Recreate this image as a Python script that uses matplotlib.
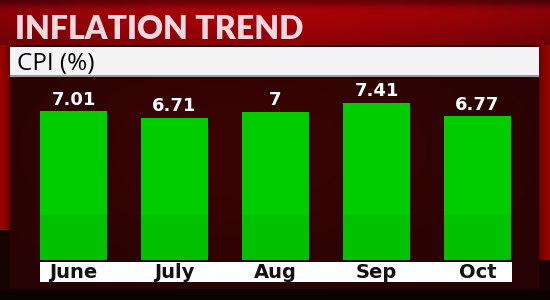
import numpy as np
import matplotlib
matplotlib.use("Agg")
import matplotlib.pyplot as plt
from matplotlib.patches import Rectangle

months = ["June", "July", "Aug", "Sep", "Oct"]
cpi = [7.01, 6.71, 7.0, 7.41, 6.77]
cpi_labels = ["7.01", "6.71", "7", "7.41", "6.77"]
title = "INFLATION TREND"
subtitle = "CPI (%)"

W, H = 550, 300
fig = plt.figure(figsize=(5.5, 3.0), dpi=100)

# ---- background image ----
yy, xx = np.mgrid[0:H, 0:W]
img = np.zeros((H, W, 3))
img[..., 0] = 0.10
img[..., 1] = 0.01
img[..., 2] = 0.01
edge = np.exp(-((xx - 0) / 14.0) ** 2) * (yy < 230) + np.exp(-((xx - 550) / 16.0) ** 2) * (yy < 260)
img[..., 0] += 0.50 * edge
top = (yy < 45)
band_r = 0.55 + 0.12 * np.sin(np.pi * xx / W) - 0.15 * (yy / 45.0) ** 2
img[..., 0] = np.where(top, band_r, img[..., 0])
img[..., 1] = np.where(top, 0.01, img[..., 1])
img[..., 2] = np.where(top, 0.03, img[..., 2])
img[..., 0] -= 0.25 * np.exp(-(yy / 6.0) ** 2)
panel = (xx >= 10) & (xx <= 538) & (yy >= 78) & (yy <= 288)
pr = 0.15 + 0.08 * np.exp(-(((xx - 250) / 220.0) ** 2 + ((yy - 150) / 110.0) ** 2))
img[..., 0] = np.where(panel, pr, img[..., 0])
img[..., 1] = np.where(panel, 0.015, img[..., 1])
img[..., 2] = np.where(panel, 0.015, img[..., 2])
bottom = yy > 288
img[..., 0] = np.where(bottom, 0.05, img[..., 0])
img = np.clip(img, 0, 1)

bg = fig.add_axes([0, 0, 1, 1])
bg.imshow(img, extent=(0, W, H, 0), aspect="auto", interpolation="bilinear")
bg.set_xlim(0, W)
bg.set_ylim(H, 0)
bg.axis("off")

bg.add_patch(Rectangle((10, 47), 529, 30, facecolor="#f4f4f6", edgecolor="none"))
bg.add_patch(Rectangle((10, 75), 529, 2, facecolor="#9a9aa0", edgecolor="none"))
bg.add_patch(Rectangle((40, 262), 472, 20, facecolor="white", edgecolor="none"))

bg.text(15, 39, title, fontsize=23, fontweight="heavy", color="#f6d8df",
        family=["Lato", "DejaVu Sans"], ha="left", va="baseline")
bg.text(17, 70, subtitle, fontsize=17.5, color="black",
        family=["Open Sans", "DejaVu Sans"], ha="left", va="baseline")

# ---- bar axes ----
x0, x1 = 40, 512
ybot, ytop = 260, 90
ax = fig.add_axes([x0 / W, 1 - ybot / H, (x1 - x0) / W, (ybot - ytop) / H])
ax.patch.set_alpha(0)
pos = np.arange(len(months))
spacing = 101.0
xmin = -(73.5 - x0) / spacing
xmax = xmin + (x1 - x0) / spacing
ax.set_xlim(xmin, xmax)
scale = 21.2
ax.set_ylim(0, (ybot - ytop) / scale)
ax.bar(pos, cpi, width=0.665, color="#00c200", edgecolor="none")
ax.bar(pos, [v - 2.1 for v in cpi], bottom=2.1, width=0.665, color="#00cc00", edgecolor="none")
for p, v, lab in zip(pos, cpi, cpi_labels):
    ax.text(p, v + 0.12, lab, ha="center", va="bottom", color="white",
            fontsize=13, fontweight="bold", family=["DejaVu Sans"])
ax.axis("off")

for p, m in zip(pos, months):
    xp = x0 + (p - xmin) * spacing
    bg.text(xp, 278, m, ha="center", va="baseline", color="#111111",
            fontsize=14, fontweight="bold", family=["DejaVu Sans"])

fig.savefig("out.png", dpi=100)
